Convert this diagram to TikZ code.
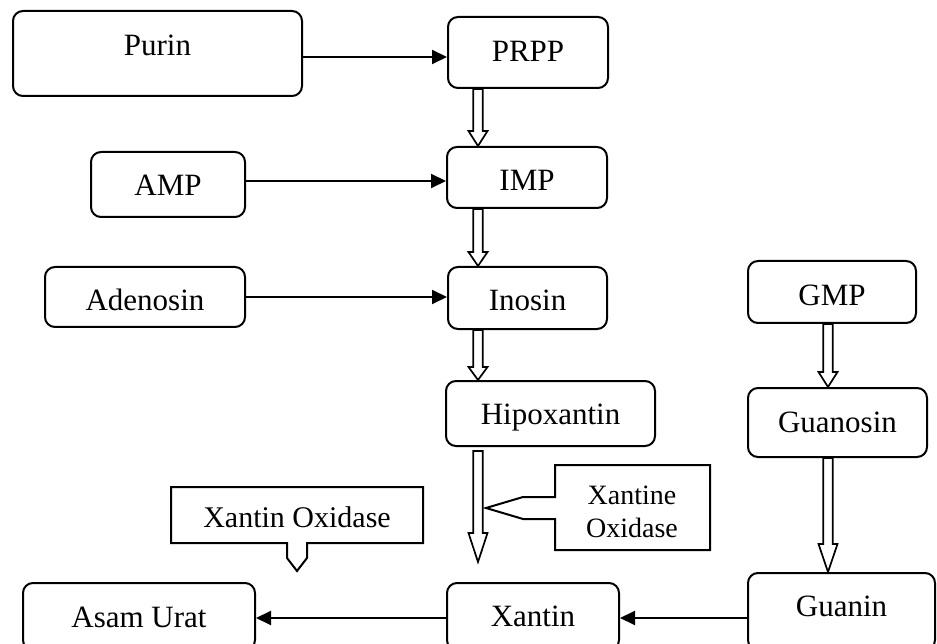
\documentclass[tikz,border=0pt]{standalone}
\usepackage{fontspec}
\setmainfont{Liberation Serif}
\usetikzlibrary{arrows.meta,calc}
\tikzset{
  box/.style={draw, rounded corners=10pt, line width=2pt, inner sep=0pt, text depth=12pt,
    font=\fontsize{31}{37}\selectfont},
  link/.style={line width=2pt, -{Triangle[length=15pt,width=14pt]}},
  harrow/.style={draw, fill=white, line width=1.7pt, line join=miter},
  callout/.style={draw, line width=2pt, line join=miter},
  ctext/.style={inner sep=0pt, align=center}
}
\newcommand\hollowarr[3]{\draw[harrow] ($#1+(-4.75,0)$) -- ($#2+(-4.75,-#3)$) -- ($#2+(-9.5,-#3)$) -- #2 -- ($#2+(9.5,-#3)$) -- ($#2+(4.75,-#3)$) -- ($#1+(4.75,0)$) -- cycle;}
\begin{document}
\begin{tikzpicture}[x=1pt,y=-1pt]
\useasboundingbox (0,0) rectangle (937,644);
\clip (0,0) rectangle (937,644);

% boxes
\node[box, minimum width=289pt, minimum height=85pt, text height=15.5pt] (purin) at (157.5,53.5) {Purin};
\node[box, minimum width=160pt, minimum height=71pt, text height=30.5pt] (prpp) at (528,52.5) {PRPP};
\node[box, minimum width=154pt, minimum height=65pt, text height=34.5pt] (amp) at (168,184.5) {AMP};
\node[box, minimum width=160pt, minimum height=61pt, text height=38.5pt] (imp) at (527,177.5) {IMP};
\node[box, minimum width=200pt, minimum height=60pt, text height=38.5pt] (adenosin) at (145,297) {Adenosin};
\node[box, minimum width=159pt, minimum height=62pt, text height=36.5pt] (inosin) at (527.5,298) {Inosin};
\node[box, minimum width=209pt, minimum height=65pt, text height=34.5pt] (hipo) at (550.5,413.5) {Hipoxantin};
\node[box, minimum width=168pt, minimum height=62pt, text height=38.5pt] (gmp) at (832,292) {GMP};
\node[box, minimum width=179pt, minimum height=69pt, text height=32.5pt] (guanosin) at (837.5,422.5) {Guanosin};
\node[box, minimum width=187pt, minimum height=77pt, text height=21.5pt] (guanin) at (841.5,611.5) {Guanin};
\node[box, minimum width=172pt, minimum height=67pt, text height=31.5pt] (xantin) at (533,616.5) {Xantin};
\node[box, minimum width=232pt, minimum height=67pt, text height=33.5pt] (asam) at (139,616.5) {Asam Urat};

% helper coordinates
\coordinate (ax) at (478,0);
\coordinate (gx) at (828,0);
\coordinate (r1) at (0,57);
\coordinate (r2) at (0,181);
\coordinate (r3) at (0,297);
\coordinate (r4) at (0,618);
\coordinate (hs) at ($(hipo.south -| ax)+(0,4)$);
\coordinate (xtip) at (478,562);

% filled arrows
\draw[link] (purin.east |- r1) -- (prpp.west |- r1);
\draw[link] (amp.east |- r2) -- (imp.west |- r2);
\draw[link] (adenosin.east |- r3) -- (inosin.west |- r3);
\draw[link] (guanin.west |- r4) -- (xantin.east |- r4);
\draw[link] (xantin.west |- r4) -- (asam.east |- r4);

% hollow arrows
\hollowarr{(prpp.south -| ax)}{(imp.north -| ax)}{15}
\hollowarr{(imp.south -| ax)}{(inosin.north -| ax)}{14}
\hollowarr{(inosin.south -| ax)}{(hipo.north -| ax)}{13}
\hollowarr{(hs)}{(xtip)}{29}
\hollowarr{(gmp.south -| gx)}{(guanosin.north -| gx)}{15}
\hollowarr{(guanosin.south -| gx)}{(guanin.north -| gx)}{28}

% callouts
\draw[callout] (171,487) -- (423,487) -- (423,543) -- (307,543) -- (307,558) -- (297,571) -- (287,558) -- (287,543) -- (171,543) -- cycle;
\node[ctext, font=\fontsize{30}{36}\selectfont] (xo1) at (297,517) {Xantin Oxidase};
\draw[callout] (555,465) -- (710,465) -- (710,550) -- (555,550) -- (555,519) -- (523,519) -- (486,508) -- (523,497) -- (555,497) -- cycle;
\node[ctext, font=\fontsize{28}{33}\selectfont] (xo2) at (632,512) {Xantine\\Oxidase};
\end{tikzpicture}
\end{document}
